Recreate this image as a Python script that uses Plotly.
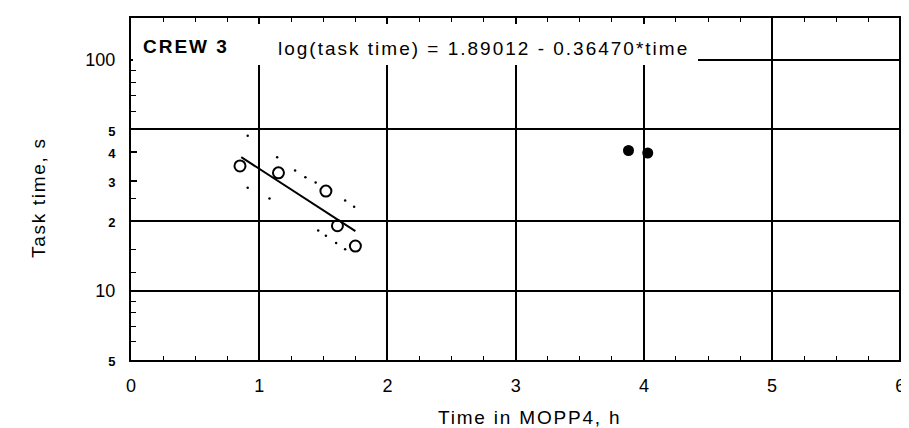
import plotly.graph_objects as go

# ---- data ----
open_x = [0.85, 1.15, 1.52, 1.61, 1.75]
open_y = [34.7, 32.4, 27.0, 19.1, 15.6]
filled_x = [3.88, 4.03]
filled_y = [40.5, 39.5]
fit_x = [0.86, 1.75]
fit_y = [37.9, 18.1]
upper_x = [0.91, 1.14, 1.28, 1.36, 1.44, 1.67, 1.74]
upper_y = [46.9, 37.9, 33.2, 31.0, 29.4, 24.6, 23.1]
lower_x = [0.91, 1.08, 1.46, 1.52, 1.60, 1.67]
lower_y = [27.9, 25.1, 18.2, 17.3, 16.1, 15.1]

x_tickvals = [0, 1, 2, 3, 4, 5, 6]
y_tickvals = [5, 10, 20, 30, 40, 50, 100]
y_ticklabels = ["5", "10", "2", "3", "4", "5", "100"]
y_small = [True, False, True, True, True, True, False]
y_gridvals = [10, 20, 50, 100]
y_minorvals = [6, 7, 8, 9, 12, 15, 25, 60, 70, 80, 90]

crew_label = "CREW 3"
equation = "log(task time) = 1.89012 - 0.36470*time"
x_title = "Time in MOPP4, h"
y_title = "Task time, s"

FONT = "Liberation Sans, Arial, sans-serif"
W, H = 909, 428
L, R, T, B = 123, 0, 10, 76
Y_LOG_RANGE = [0.69897, 2.182]
X_RANGE = [0, 6.13]

def px_to_paper_x(px):
    return (px - L) / (W - L - R)

def px_to_paper_y(py):
    return (H - B - py) / (H - B - T)

def spaced(text, sp):
    return f"<span style='letter-spacing:{sp}px'>{text}</span>"

ticktext = [
    f"<b><span style='font-size:13px'>{t}</span></b>" if s else t
    for t, s in zip(y_ticklabels, y_small)
]

fig = go.Figure()

# confidence band dots
fig.add_trace(go.Scatter(x=upper_x, y=upper_y, mode="markers",
                         marker=dict(size=2.5, color="black"), showlegend=False))
fig.add_trace(go.Scatter(x=lower_x, y=lower_y, mode="markers",
                         marker=dict(size=2.5, color="black"), showlegend=False))
# regression line
fig.add_trace(go.Scatter(x=fit_x, y=fit_y, mode="lines",
                         line=dict(color="black", width=2), showlegend=False))
# open circles
fig.add_trace(go.Scatter(x=open_x, y=open_y, mode="markers",
                         marker=dict(symbol="circle-open", size=11, color="black",
                                     line=dict(width=2, color="black")),
                         showlegend=False))
# filled circles (on overlay axis carrying the grid)
fig.add_trace(go.Scatter(x=filled_x, y=filled_y, mode="markers", yaxis="y2",
                         marker=dict(symbol="circle", size=11, color="black"),
                         showlegend=False))

fig.update_layout(
    width=W, height=H,
    margin=dict(l=L, r=R, t=T, b=B),
    paper_bgcolor="white", plot_bgcolor="white",
    font=dict(family=FONT, size=18, color="black"),
    xaxis=dict(
        range=X_RANGE, tickvals=x_tickvals, ticktext=[str(v) for v in x_tickvals],
        showgrid=True, gridcolor="black", gridwidth=1.5,
        zeroline=False, showline=True, linecolor="black", linewidth=2,
        mirror="ticks", ticks="inside", ticklen=5, tickwidth=1.5, tickcolor="black",
        minor=dict(dtick=0.25, ticks="inside", ticklen=4, tickwidth=1.2,
                   tickcolor="black", showgrid=False),
        tickfont=dict(size=18, family=FONT), ticklabelstandoff=8,
    ),
    yaxis=dict(
        type="log", range=Y_LOG_RANGE, tickvals=y_tickvals, ticktext=ticktext,
        showgrid=False, zeroline=False, showline=True, linecolor="black",
        linewidth=2, mirror=False, ticks="inside", ticklen=6, tickwidth=1.5,
        tickcolor="black",
        minor=dict(tickvals=y_minorvals, ticks="inside", ticklen=5, tickwidth=1.2,
                   tickcolor="black", showgrid=False),
        tickfont=dict(size=18, family=FONT), ticklabelstandoff=10,
    ),
    yaxis2=dict(
        type="log", range=Y_LOG_RANGE, overlaying="y", side="left",
        tickvals=y_gridvals, showgrid=True, gridcolor="black", gridwidth=2,
        showticklabels=False, ticks="", showline=False, zeroline=False,
    ),
    shapes=[dict(type="rect", xref="paper", yref="paper",
                 x0=px_to_paper_x(125), x1=px_to_paper_x(690),
                 y0=px_to_paper_y(57), y1=px_to_paper_y(16),
                 fillcolor="white", line=dict(width=0), layer="above")],
    annotations=[
        dict(text=f"<b>{spaced(crew_label, 2.0)}</b>", xref="paper", yref="paper",
             x=px_to_paper_x(133), y=px_to_paper_y(38), xanchor="left",
             yanchor="middle", showarrow=False, font=dict(size=19, family=FONT)),
        dict(text=spaced(equation, 2.0), xref="paper", yref="paper",
             x=px_to_paper_x(268), y=px_to_paper_y(40), xanchor="left",
             yanchor="middle", showarrow=False, font=dict(size=19, family=FONT)),
        dict(text=spaced(x_title, 1.8), xref="paper", yref="paper",
             x=px_to_paper_x(521), y=px_to_paper_y(409), xanchor="center",
             yanchor="middle", showarrow=False, font=dict(size=19, family=FONT)),
        dict(text=spaced(y_title, 1.7), xref="paper", yref="paper",
             x=px_to_paper_x(30), y=px_to_paper_y(190), xanchor="center",
             yanchor="middle", textangle=-90, showarrow=False,
             font=dict(size=19, family=FONT)),
    ],
)

fig.write_html("out.html")
